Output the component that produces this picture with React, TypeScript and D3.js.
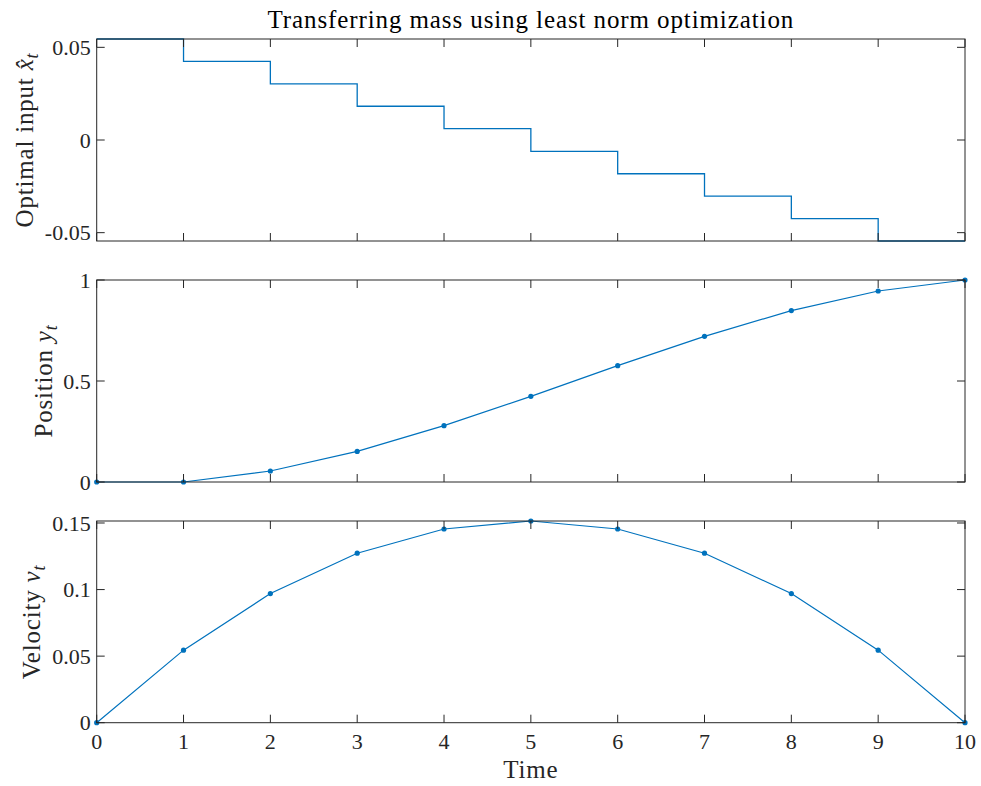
import * as d3 from "d3";

// time steps and values
const timeSteps = [0, 1, 2, 3, 4, 5, 6, 7, 8, 9, 10];
const inputForce = [0.0545, 0.0424, 0.0303, 0.0182, 0.0061, -0.0061, -0.0182, -0.0303, -0.0424, -0.0545];
const position = [0, 0, 0.0545, 0.1515, 0.2788, 0.4242, 0.5758, 0.7212, 0.8485, 0.9455, 1];
const velocity = [0, 0.0545, 0.097, 0.1273, 0.1455, 0.1515, 0.1455, 0.1273, 0.097, 0.0545, 0];

const inputTicks = [-0.05, 0, 0.05];
const inputTickLabels = ["-0.05", "0", "0.05"];
const positionTicks = [0, 0.5, 1];
const positionTickLabels = ["0", "0.5", "1"];
const velocityTicks = [0, 0.05, 0.1, 0.15];
const velocityTickLabels = ["0", "0.05", "0.1", "0.15"];

const W = 981;
const H = 786;
const LEFT = 96.7;
const RIGHT = 965;
const BLUE = "#0072BD";
const AXIS = "#262626";
const FONT = "'Liberation Serif', 'Times New Roman', serif";
const TICK = 8;

const x = d3.scaleLinear().domain([0, 10]).range([LEFT, RIGHT]);

function Panel({ top, bottom, domain, ticks, tickLabels, showX, children }) {
  const y = d3.scaleLinear().domain(domain).range([bottom, top]);
  return (
    <g>
      {children(y)}
      <rect x={LEFT} y={top} width={RIGHT - LEFT} height={bottom - top} fill="none" stroke={AXIS} strokeWidth={1} />
      {timeSteps.map((t) => (
        <g key={"x" + t}>
          <line x1={x(t)} x2={x(t)} y1={bottom} y2={bottom - TICK} stroke={AXIS} />
          <line x1={x(t)} x2={x(t)} y1={top} y2={top + TICK} stroke={AXIS} />
          {showX && (
            <text x={x(t)} y={bottom + 26} textAnchor="middle" fontSize={22} fill={AXIS} fontFamily={FONT}>
              {t}
            </text>
          )}
        </g>
      ))}
      {ticks.map((v, i) => (
        <g key={"y" + i}>
          <line x1={LEFT} x2={LEFT + TICK} y1={y(v)} y2={y(v)} stroke={AXIS} />
          <line x1={RIGHT} x2={RIGHT - TICK} y1={y(v)} y2={y(v)} stroke={AXIS} />
          <text x={LEFT - 6} y={y(v)} dy="0.35em" textAnchor="end" fontSize={22} fill={AXIS} fontFamily={FONT}>
            {tickLabels[i]}
          </text>
        </g>
      ))}
    </g>
  );
}

function YLabel({ cx, cy, text, sym, hat }) {
  return (
    <text
      transform={`translate(${cx},${cy}) rotate(-90)`}
      textAnchor="middle"
      fontSize={25}
      letterSpacing={0.8}
      fill={AXIS}
      fontFamily={FONT}
    >
      {text}
      <tspan fontStyle="italic">{hat ? sym + "\u0302" : sym}</tspan>
      <tspan fontStyle="italic" fontSize={18} dy={5}>t</tspan>
    </text>
  );
}

export default function App() {
  const stairPts = inputForce.map((v, i) => [timeSteps[i], v]);
  stairPts.push([timeSteps[timeSteps.length - 1], inputForce[inputForce.length - 1]]);

  return (
    <svg width={W} height={H} style={{ position: "absolute", left: 0, top: 0, background: "#fff" }}>
      <text x={(LEFT + RIGHT) / 2} y={28} textAnchor="middle" fontSize={25} letterSpacing={0.9} fill="#000" fontFamily={FONT}>
        Transferring mass using least norm optimization
      </text>

      <Panel top={39} bottom={241} domain={[-0.0545, 0.0545]} ticks={inputTicks} tickLabels={inputTickLabels} showX={false}>
        {(y) => (
          <path
            d={d3.line().x((d) => x(d[0])).y((d) => y(d[1])).curve(d3.curveStepAfter)(stairPts)}
            fill="none"
            stroke={BLUE}
            strokeWidth={1.3}
          />
        )}
      </Panel>

      <Panel top={280} bottom={482} domain={[0, 1]} ticks={positionTicks} tickLabels={positionTickLabels} showX={false}>
        {(y) => (
          <g>
            <path
              d={d3.line().x((d, i) => x(timeSteps[i])).y((d) => y(d))(position)}
              fill="none"
              stroke={BLUE}
              strokeWidth={1.2}
            />
            {position.map((v, i) => (
              <circle key={i} cx={x(timeSteps[i])} cy={y(v)} r={2.6} fill={BLUE} />
            ))}
          </g>
        )}
      </Panel>

      <Panel top={521} bottom={722.7} domain={[0, 0.1515]} ticks={velocityTicks} tickLabels={velocityTickLabels} showX={true}>
        {(y) => (
          <g>
            <path
              d={d3.line().x((d, i) => x(timeSteps[i])).y((d) => y(d))(velocity)}
              fill="none"
              stroke={BLUE}
              strokeWidth={1.2}
            />
            {velocity.map((v, i) => (
              <circle key={i} cx={x(timeSteps[i])} cy={y(v)} r={2.6} fill={BLUE} />
            ))}
          </g>
        )}
      </Panel>

      <YLabel cx={33} cy={140} text="Optimal input " sym="x" hat={true} />
      <YLabel cx={52} cy={381} text="Position " sym="y" hat={false} />
      <YLabel cx={40} cy={622} text="Velocity " sym="v" hat={false} />

      <text x={(LEFT + RIGHT) / 2} y={778} textAnchor="middle" fontSize={25} letterSpacing={0.8} fill={AXIS} fontFamily={FONT}>
        Time
      </text>
    </svg>
  );
}
